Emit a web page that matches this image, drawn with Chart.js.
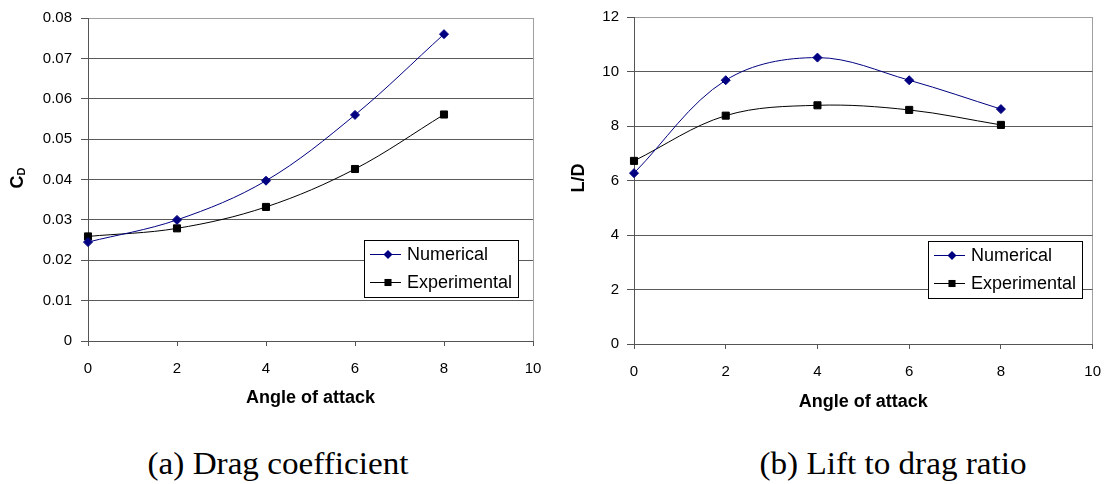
<!DOCTYPE html>
<html><head><meta charset="utf-8">
<script src="https://cdn.jsdelivr.net/npm/chart.js@4.4.0/dist/chart.umd.min.js"></script>
<style>
html,body{margin:0;padding:0;background:#fff;width:1115px;height:484px;overflow:hidden;}
#c1{position:absolute;left:0;top:0;}
#c2{position:absolute;left:557px;top:0;}
.cap{position:absolute;top:448px;font-family:'Liberation Serif','Times New Roman',serif;font-size:31px;line-height:31px;white-space:nowrap;color:#000;transform:translateX(-50%) scaleX(1.07);}
</style></head><body>
<canvas id="c1" width="557" height="420"></canvas>
<canvas id="c2" width="558" height="420"></canvas>
<div class="cap" style="left:278px">(a) Drag coefficient</div>
<div class="cap" style="left:893px">(b) Lift to drag ratio</div>
<script>
// ---- data ----
const angles = [0, 2, 4, 6, 8];
const seriesNames = ['Numerical', 'Experimental'];
const cdNumerical = [0.0245, 0.0300, 0.0397, 0.0560, 0.0760];
const cdExperimental = [0.0259, 0.0279, 0.0332, 0.0426, 0.0561];
const ldNumerical = [6.27, 9.68, 10.51, 9.68, 8.62];
const ldExperimental = [6.72, 8.38, 8.76, 8.59, 8.04];
const xTickLabels = ['0', '2', '4', '6', '8', '10'];
const cdTickLabels = ['0', '0.01', '0.02', '0.03', '0.04', '0.05', '0.06', '0.07', '0.08'];
const ldTickLabels = ['0', '2', '4', '6', '8', '10', '12'];
const xTitle = 'Angle of attack';

const FONT = "'Liberation Sans', Arial, sans-serif";

function pts(ys) { return angles.map((a, i) => ({x: a, y: ys[i]})); }

function drawMarker(ctx, style, x, y, r, color) {
  ctx.fillStyle = color;
  ctx.beginPath();
  if (style === 'rectRot') {
    ctx.moveTo(x - r, y); ctx.lineTo(x, y - r); ctx.lineTo(x + r, y); ctx.lineTo(x, y + r);
  } else {
    const s = r * Math.SQRT1_2;
    ctx.rect(x - s, y - s, 2 * s, 2 * s);
  }
  ctx.closePath();
  ctx.fill();
}

const customDraw = {
  id: 'customDraw',
  afterDatasetsDraw(chart, args, o) {
    const ctx = chart.ctx;
    ctx.save();
    // legend
    const L = o.legend;
    ctx.fillStyle = '#fff';
    ctx.fillRect(L.x, L.y, L.w, L.h);
    ctx.strokeStyle = '#000';
    ctx.lineWidth = 1;
    ctx.strokeRect(L.x + 0.5, L.y + 0.5, L.w, L.h);
    chart.data.datasets.forEach((ds, i) => {
      const cy = Math.round(L.y + L.first + i * L.row) + 0.5;
      ctx.strokeStyle = ds.borderColor;
      ctx.beginPath();
      ctx.moveTo(L.x + 6, cy); ctx.lineTo(L.x + 37, cy);
      ctx.stroke();
      drawMarker(ctx, ds.pointStyle, L.x + 24, cy, ds.pointRadius, ds.pointBackgroundColor);
      ctx.fillStyle = '#000';
      ctx.font = '18px ' + FONT;
      ctx.textBaseline = 'middle';
      ctx.textAlign = 'left';
      ctx.fillText(ds.label, L.x + 43, cy + 1);
    });
    // y title
    const T = o.ytitle;
    ctx.translate(T.x, T.y);
    ctx.rotate(-Math.PI / 2);
    ctx.fillStyle = '#000';
    ctx.textBaseline = 'middle';
    ctx.font = 'bold 18px ' + FONT;
    const w1 = ctx.measureText(T.text).width;
    let w2 = 0;
    if (T.sub) { ctx.font = 'bold 11px ' + FONT; w2 = ctx.measureText(T.sub).width; }
    const start = -(w1 + w2) / 2;
    ctx.font = 'bold 18px ' + FONT;
    ctx.textAlign = 'left';
    ctx.fillText(T.text, start, 0);
    if (T.sub) {
      ctx.font = 'bold 11px ' + FONT;
      ctx.fillText(T.sub, start + w1, 4);
    }
    ctx.restore();
  }
};

function makeChart(id, numY, expY, yMax, yStep, yLabels, geom) {
  return new Chart(document.getElementById(id), {
    type: 'line',
    data: {
      datasets: [
        {label: seriesNames[0], data: pts(numY), borderColor: '#000080', borderWidth: 1,
         pointStyle: 'rectRot', pointRadius: 4.5, pointBackgroundColor: '#000080', pointBorderColor: '#000080',
         pointBorderWidth: 1, tension: 0.35, fill: false, clip: false},
        {label: seriesNames[1], data: pts(expY), borderColor: '#000000', borderWidth: 1,
         pointStyle: 'rect', pointRadius: 5, pointBackgroundColor: '#000000', pointBorderColor: '#000000',
         pointBorderWidth: 1, tension: 0.35, fill: false, clip: false}
      ]
    },
    options: {
      responsive: false,
      animation: false,
      layout: {padding: {left: 0, top: geom.top, right: geom.right, bottom: 0}},
      plugins: {
        legend: {display: false},
        tooltip: {enabled: false},
        customDraw: {legend: geom.legend, ytitle: geom.ytitle}
      },
      scales: {
        x: {
          type: 'linear', min: 0, max: 10,
          afterFit: s => { s.height = geom.xh; },
          ticks: {stepSize: 2, padding: geom.xpad, color: '#000', font: {family: FONT, size: 15},
                  maxRotation: 0, callback: (v, i) => xTickLabels[i]},
          grid: {drawOnChartArea: true, tickLength: 5, tickColor: '#555',
                 color: c => (c.tick && c.tick.value === 10) ? '#a0a0a0' : 'rgba(0,0,0,0)'},
          border: {color: '#555', width: 1},
          title: {display: true, text: xTitle, color: '#000',
                  font: {family: FONT, size: 18, weight: 'bold'}, padding: {top: 0, bottom: geom.tpad}}
        },
        y: {
          min: 0, max: yMax,
          afterFit: s => { s.width = geom.yw; },
          ticks: {stepSize: yStep, padding: geom.ypad, color: '#000', font: {family: FONT, size: 15},
                  callback: (v, i) => yLabels[i]},
          grid: {tickLength: 7, tickColor: '#555',
                 color: c => (c.tick && Math.abs(c.tick.value - yMax) < 1e-9) ? '#a0a0a0' : '#5a5a5a'},
          border: {color: '#555', width: 1}
        }
      }
    },
    plugins: [customDraw]
  });
}

makeChart('c1', cdNumerical, cdExperimental, 0.08, 0.01, cdTickLabels, {
  top: 15, right: 24, xh: 79, yw: 88, xpad: 14, ypad: 9, tpad: 11,
  legend: {x: 364, y: 240, w: 154, h: 57, first: 14, row: 28},
  ytitle: {x: 18, y: 178, text: 'C', sub: 'D'}
});
makeChart('c2', ldNumerical, ldExperimental, 12, 2, ldTickLabels, {
  top: 14, right: 14, xh: 76, yw: 77, xpad: 14, ypad: 8, tpad: 7.5,
  legend: {x: 371, y: 241, w: 154, h: 57, first: 14, row: 28},
  ytitle: {x: 22, y: 178, text: 'L/D', sub: ''}
});
</script>
</body></html>
